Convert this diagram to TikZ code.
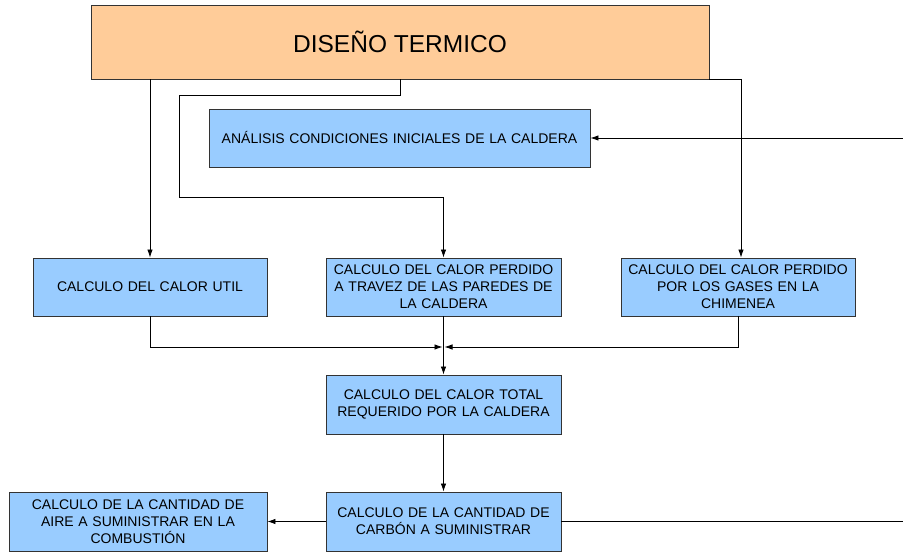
\documentclass[tikz,border=0pt]{standalone}
\usepackage{fontspec}
\setmainfont{Liberation Sans}
\usetikzlibrary{arrows.meta}
\definecolor{boxblue}{HTML}{99CCFF}
\definecolor{boxorange}{HTML}{FFCC99}
\definecolor{edge}{HTML}{333333}
\begin{document}
\begin{tikzpicture}[x=1pt,y=-1pt,
  bluebox/.style={draw=edge,line width=0.9pt,fill=boxblue,rectangle,inner sep=2pt,
    align=center,font=\fontsize{14}{17}\selectfont,text width=#1-4pt},
  bluebox/.default=234pt,
  conn/.style={draw=black,line width=0.8pt},
  arr/.style={conn,-{Latex[length=8pt,width=5.5pt]}}]
\useasboundingbox (0,0) rectangle (903,553);
\node[draw=edge,line width=0.9pt,fill=boxorange,minimum width=618pt,minimum height=74pt,
  font=\fontsize{24.5}{28}\selectfont] (top) at (400,42) {DISEÑO TERMICO};
\node[bluebox=381pt,minimum width=381pt,minimum height=58pt] (ana) at (399.5,138)
  {ANÁLISIS CONDICIONES INICIALES DE LA CALDERA};
\node[bluebox,minimum width=234pt,minimum height=58pt] (util) at (150,287)
  {CALCULO DEL CALOR UTIL};
\node[bluebox=235pt,minimum width=235pt,minimum height=58pt] (pared) at (443.5,287)
  {CALCULO DEL CALOR PERDIDO\\A TRAVEZ DE LAS PAREDES DE\\LA CALDERA};
\node[bluebox,minimum width=234pt,minimum height=58pt] (gases) at (738,287)
  {CALCULO DEL CALOR PERDIDO\\POR LOS GASES EN LA\\CHIMENEA};
\node[bluebox=235pt,minimum width=235pt,minimum height=59pt] (total) at (443.5,404.5)
  {CALCULO DEL CALOR TOTAL\\REQUERIDO POR LA CALDERA};
\node[bluebox=235pt,minimum width=235pt,minimum height=59pt] (carbon) at (443.5,521.5)
  {CALCULO DE LA CANTIDAD DE\\CARBÓN A SUMINISTRAR};
\node[bluebox=258pt,minimum width=258pt,minimum height=59pt] (aire) at (138,521.5)
  {CALCULO DE LA CANTIDAD DE\\AIRE A SUMINISTRAR EN LA\\COMBUSTIÓN};
% coordinates
\coordinate (rin) at (903,138);
\coordinate (rout) at (903,521.5);
\coordinate (join) at (443.5,347);
\coordinate (gcorner) at ([yshift=0.45pt]top.south east -| 741,0);
% connectors
\draw[arr] (top.south -| util.north) -- (util.north);
\draw[arr] (top.south) -- ++(0,16) -| (179,197) -| (pared.north);
\draw[conn] ([yshift=0.45pt]top.south east) -- (gcorner);
\draw[arr] (gcorner) -- (gcorner |- gases.north);
\draw[arr] (rin) -- (ana.east);
\draw[arr] (util.south) |- ([xshift=-1pt]join);
\draw[arr] (gases.south) |- ([xshift=1pt]join);
\draw[arr] (pared.south) -- (total.north);
\draw[arr] (total.south) -- (carbon.north);
\draw[arr] (carbon.west) -- (aire.east);
\draw[conn] (carbon.east) -- (rout);
\end{tikzpicture}
\end{document}
